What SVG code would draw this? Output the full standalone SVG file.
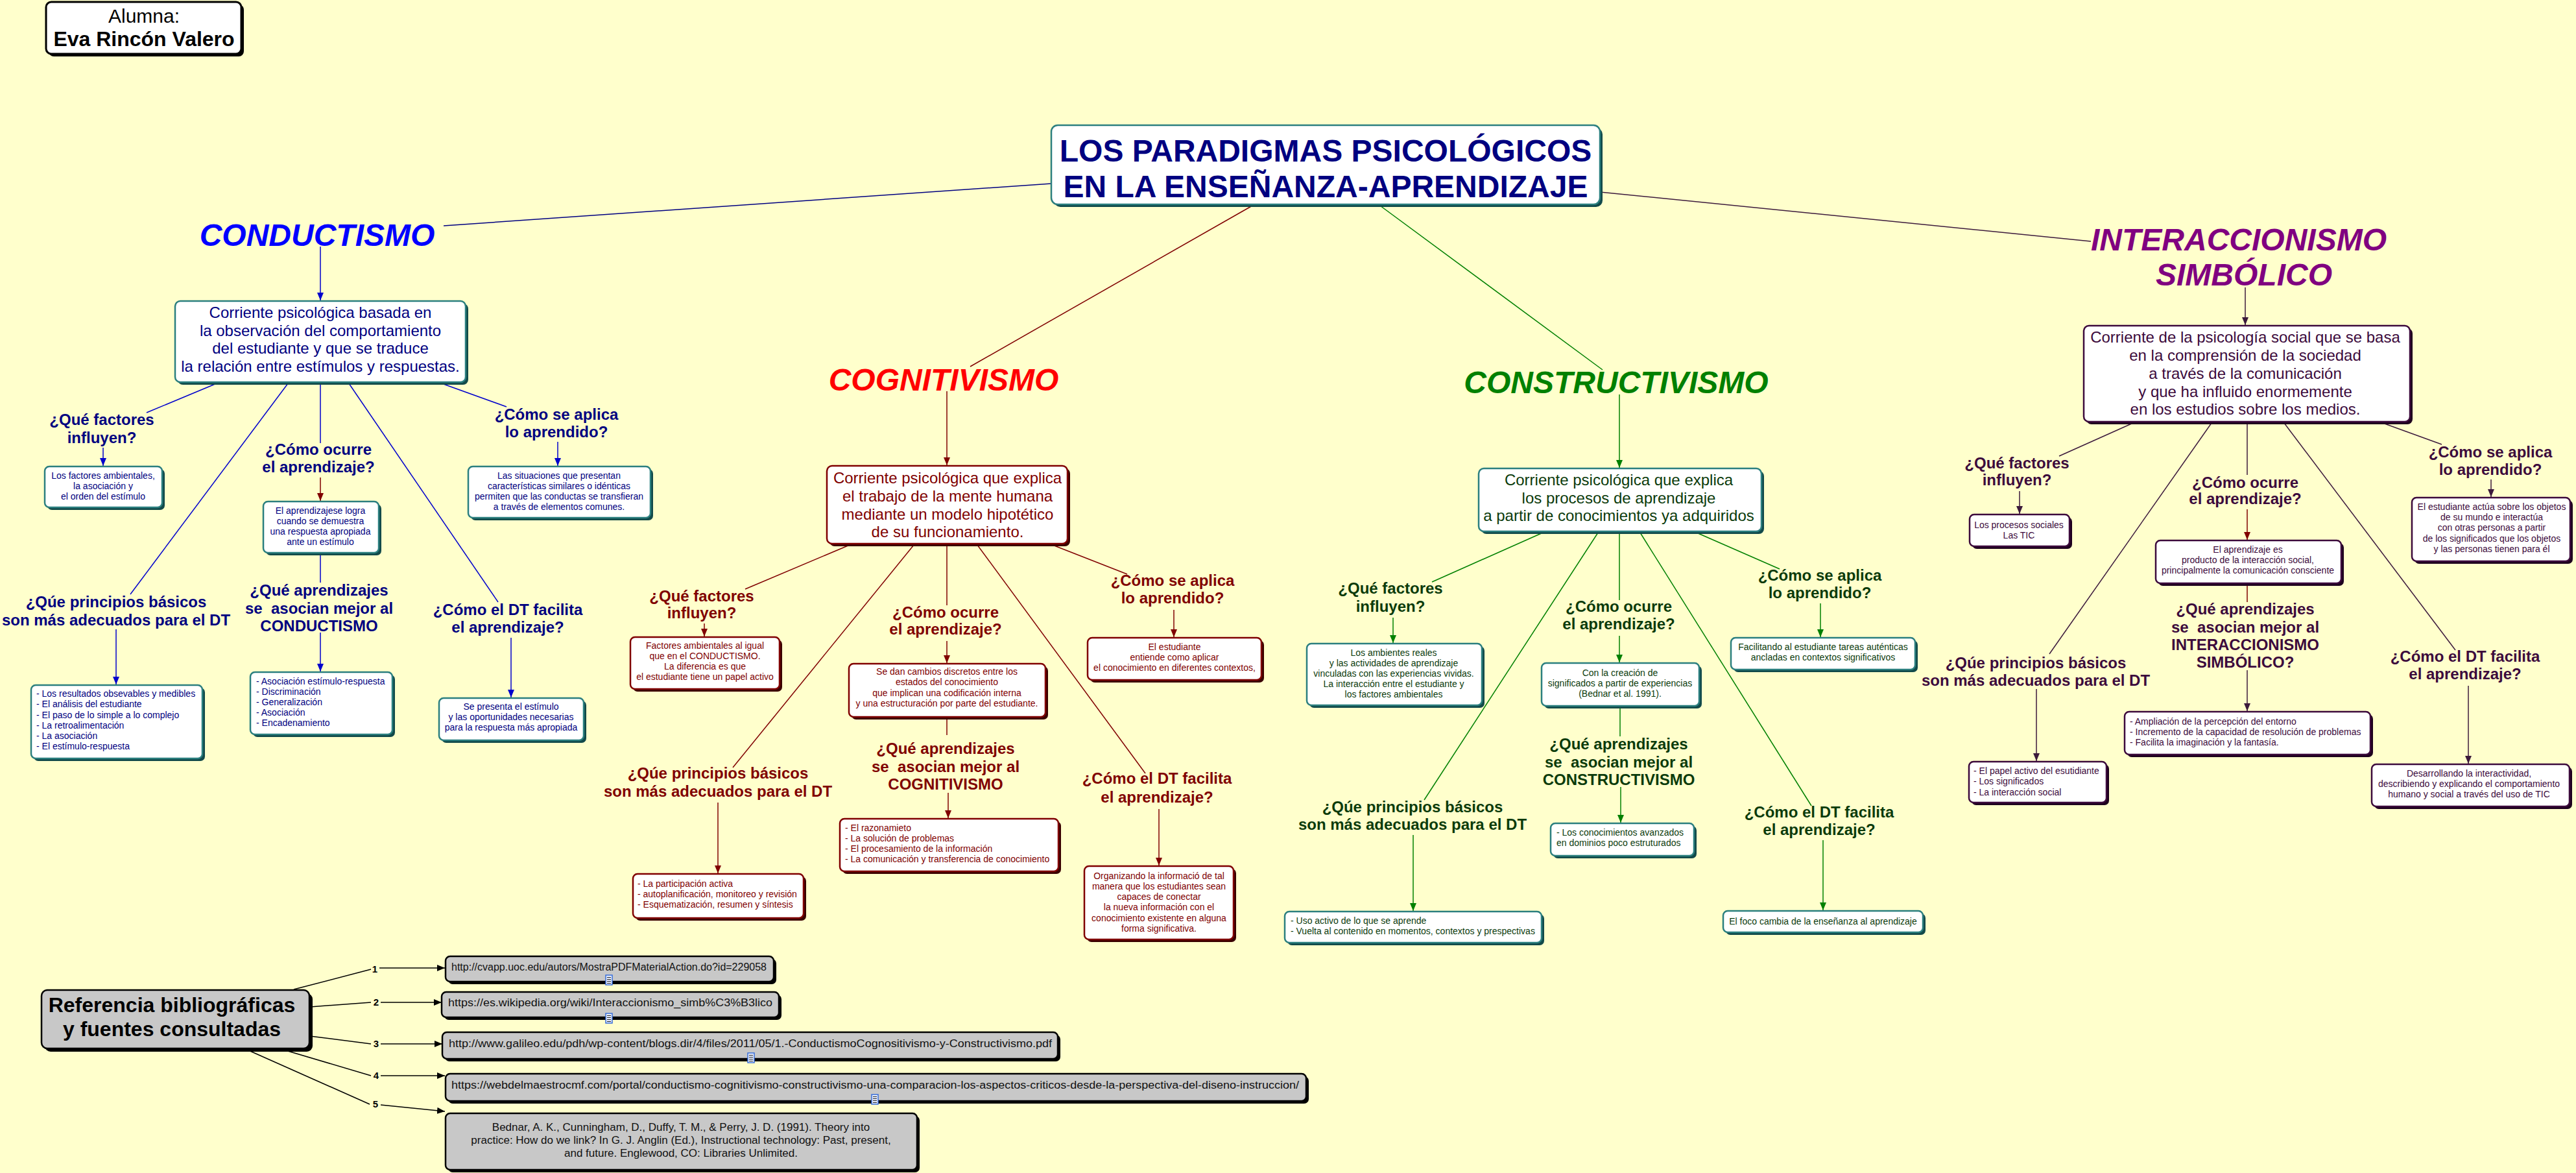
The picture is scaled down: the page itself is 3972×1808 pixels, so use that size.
<svg xmlns="http://www.w3.org/2000/svg" width="3972" height="1808" viewBox="0 0 3972 1808">
<style>
text{font-family:"Liberation Sans",Arial,"DejaVu Sans",sans-serif}
.s{font-size:14px}.m{font-size:24px}.q{font-size:24px;font-weight:bold;white-space:pre}
.big{font-size:48px;font-weight:bold;font-style:italic}
.u{font-size:16px;fill:#111}
.c{text-anchor:middle}
.nv{fill:#000080}.mr{fill:#800000}.gr{fill:#0b3b0b}.pu{fill:#3c0a3c}
.bt{fill:#fff;stroke:#2b7f7f;stroke-width:2.5}
.bm{fill:#fff;stroke:#800000;stroke-width:2.5}
.bp{fill:#fff;stroke:#3c0a3c;stroke-width:2.5}
.bk{fill:#fff;stroke:#000;stroke-width:3}
.bg2{fill:#c8c8c8;stroke:#000;stroke-width:2.5}
.sht{fill:#124a4a}.shm{fill:#3a0000}.shp{fill:#1e001e}.shk{fill:#000}
.l{fill:none;stroke-width:1.5}
.lb{stroke:#0000cc}.lm{stroke:#800000}.lg{stroke:#008000}.lp{stroke:#3c1a3c}.lk{stroke:#000}
.ico rect{fill:#e4ecff;stroke:#3a6fd8;stroke-width:1.5}.ico path{stroke:#222;stroke-width:1}
</style>
<defs>
<marker id="aB" markerWidth="12" markerHeight="10" refX="12" refY="5" orient="auto" markerUnits="userSpaceOnUse"><path d="M0,0L12,5L0,10z" fill="#0000cc"/></marker>
<marker id="aM" markerWidth="12" markerHeight="10" refX="12" refY="5" orient="auto" markerUnits="userSpaceOnUse"><path d="M0,0L12,5L0,10z" fill="#800000"/></marker>
<marker id="aG" markerWidth="12" markerHeight="10" refX="12" refY="5" orient="auto" markerUnits="userSpaceOnUse"><path d="M0,0L12,5L0,10z" fill="#008000"/></marker>
<marker id="aP" markerWidth="12" markerHeight="10" refX="12" refY="5" orient="auto" markerUnits="userSpaceOnUse"><path d="M0,0L12,5L0,10z" fill="#3c1a3c"/></marker>
<marker id="aK" markerWidth="12" markerHeight="10" refX="12" refY="5" orient="auto" markerUnits="userSpaceOnUse"><path d="M0,0L12,5L0,10z" fill="#000"/></marker>
</defs>
<rect width="3972" height="1808" fill="#ffffcc"/>

<g id="connectors">
<line class="l" stroke="#000080" x1="1621" y1="283" x2="684" y2="348"/>
<line class="l lm" x1="1931" y1="317" x2="1496" y2="565"/>
<line class="l lg" x1="2128" y1="317" x2="2471" y2="570"/>
<line class="l lp" x1="2467" y1="296" x2="3224" y2="372"/>
<line class="l lb" x1="494" y1="380" x2="494" y2="463" marker-end="url(#aB)"/>
<line class="l lb" x1="334" y1="591" x2="226" y2="636"/>
<line class="l lb" x1="444" y1="591" x2="201" y2="916"/>
<line class="l lb" x1="494" y1="591" x2="494" y2="683"/>
<line class="l lb" x1="538" y1="591" x2="768" y2="928"/>
<line class="l lb" x1="681" y1="591" x2="781" y2="627"/>
<line class="l lb" x1="159" y1="690" x2="159" y2="718" marker-end="url(#aB)"/>
<line class="l lm" x1="494" y1="736" x2="494" y2="772" marker-end="url(#aM)"/>
<line class="l lb" x1="494" y1="852" x2="494" y2="898"/>
<line class="l lb" x1="494" y1="975" x2="494" y2="1035" marker-end="url(#aB)"/>
<line class="l lb" x1="179" y1="970" x2="179" y2="1055" marker-end="url(#aB)"/>
<line class="l lb" x1="788" y1="983" x2="788" y2="1075" marker-end="url(#aB)"/>
<line class="l lb" x1="860" y1="681" x2="860" y2="718" marker-end="url(#aB)"/>
<line class="l lm" x1="1460" y1="603" x2="1460" y2="717" marker-end="url(#aM)"/>
<line class="l lm" x1="1310" y1="840" x2="1149" y2="908"/>
<line class="l lm" x1="1409" y1="840" x2="1130" y2="1183"/>
<line class="l lm" x1="1460" y1="840" x2="1460" y2="933"/>
<line class="l lm" x1="1507" y1="840" x2="1766" y2="1192"/>
<line class="l lm" x1="1623" y1="840" x2="1738" y2="885"/>
<line class="l lm" x1="1086" y1="961" x2="1086" y2="981" marker-end="url(#aM)"/>
<line class="l lm" x1="1460" y1="988" x2="1460" y2="1022" marker-end="url(#aM)"/>
<line class="l lm" x1="1460" y1="1105" x2="1460" y2="1133"/>
<line class="l lm" x1="1462" y1="1222" x2="1462" y2="1261" marker-end="url(#aM)"/>
<line class="l lm" x1="1107" y1="1237" x2="1107" y2="1346" marker-end="url(#aM)"/>
<line class="l lm" x1="1787" y1="1247" x2="1787" y2="1334" marker-end="url(#aM)"/>
<line class="l lm" x1="1810" y1="940" x2="1810" y2="982" marker-end="url(#aM)"/>
<line class="l lg" x1="2497" y1="608" x2="2497" y2="721" marker-end="url(#aG)"/>
<line class="l lg" x1="2379" y1="821" x2="2208" y2="897"/>
<line class="l lg" x1="2464" y1="821" x2="2196" y2="1233"/>
<line class="l lg" x1="2497" y1="821" x2="2497" y2="925"/>
<line class="l lg" x1="2529" y1="821" x2="2793" y2="1242"/>
<line class="l lg" x1="2616" y1="821" x2="2744" y2="877"/>
<line class="l lg" x1="2148" y1="952" x2="2148" y2="991" marker-end="url(#aG)"/>
<line class="l lg" x1="2497" y1="980" x2="2497" y2="1021" marker-end="url(#aG)"/>
<line class="l lg" x1="2498" y1="1088" x2="2498" y2="1135"/>
<line class="l lg" x1="2499" y1="1213" x2="2499" y2="1268" marker-end="url(#aG)"/>
<line class="l lg" x1="2179" y1="1287" x2="2179" y2="1404" marker-end="url(#aG)"/>
<line class="l lg" x1="2811" y1="1295" x2="2811" y2="1403" marker-end="url(#aG)"/>
<line class="l lg" x1="2807" y1="930" x2="2807" y2="982" marker-end="url(#aG)"/>
<line class="l lp" x1="3462" y1="443" x2="3462" y2="501" marker-end="url(#aP)"/>
<line class="l lp" x1="3289" y1="652" x2="3175" y2="703"/>
<line class="l lp" x1="3410" y1="652" x2="3160" y2="1008"/>
<line class="l lp" x1="3465" y1="652" x2="3465" y2="732"/>
<line class="l lp" x1="3522" y1="652" x2="3786" y2="1002"/>
<line class="l lp" x1="3674" y1="652" x2="3765" y2="685"/>
<line class="l lp" x1="3114" y1="757" x2="3114" y2="792" marker-end="url(#aP)"/>
<line class="l lm" x1="3465" y1="785" x2="3465" y2="832" marker-end="url(#aM)"/>
<line class="l lm" x1="3465" y1="899" x2="3465" y2="928"/>
<line class="l lp" x1="3465" y1="1033" x2="3465" y2="1096" marker-end="url(#aP)"/>
<line class="l lp" x1="3140" y1="1062" x2="3140" y2="1173" marker-end="url(#aP)"/>
<line class="l lp" x1="3806" y1="1057" x2="3806" y2="1177" marker-end="url(#aP)"/>
<line class="l lp" x1="3841" y1="739" x2="3841" y2="766" marker-end="url(#aP)"/>
<line class="l lk" x1="453" y1="1525" x2="572" y2="1494"/>
<line class="l lk" x1="585" y1="1492" x2="686" y2="1492" marker-end="url(#aK)"/>
<line class="l lk" x1="478" y1="1552" x2="572" y2="1545"/>
<line class="l lk" x1="587" y1="1545" x2="681" y2="1545" marker-end="url(#aK)"/>
<line class="l lk" x1="478" y1="1597" x2="572" y2="1609"/>
<line class="l lk" x1="587" y1="1609" x2="682" y2="1609" marker-end="url(#aK)"/>
<line class="l lk" x1="437" y1="1618" x2="572" y2="1658"/>
<line class="l lk" x1="587" y1="1658" x2="686" y2="1658" marker-end="url(#aK)"/>
<line class="l lk" x1="381" y1="1618" x2="570" y2="1702"/>
<line class="l lk" x1="587" y1="1703" x2="686" y2="1713" marker-end="url(#aK)"/>
<g font-size="15" font-weight="bold" text-anchor="middle" fill="#000">
<text x="578" y="1499">1</text><text x="580" y="1550">2</text><text x="580" y="1614">3</text><text x="580" y="1663">4</text><text x="579" y="1707">5</text>
</g>
</g>

<g id="alumna">
<rect class="shk" x="75" y="7" width="301" height="80" rx="8"/>
<rect class="bk" x="71" y="3" width="301" height="80" rx="8"/>
<text x="222" y="35" class="c" font-size="30" fill="#000">Alumna:</text>
<text x="222" y="71" class="c" font-size="32" font-weight="bold" fill="#000">Eva Rincón Valero</text>
</g>

<g id="titulo">
<rect class="sht" x="1625" y="197" width="846" height="122" rx="10"/>
<rect class="bt" x="1621" y="193" width="846" height="122" rx="10"/>
<text class="c nv" font-size="48" font-weight="bold"><tspan x="2044" y="249">LOS PARADIGMAS PSICOLÓGICOS</tspan><tspan x="2044" y="304">EN LA ENSEÑANZA-APRENDIZAJE</tspan></text>
</g>

<g id="conductismo"><text x="489" y="379" class="big c" fill="#0000ff">CONDUCTISMO</text></g>
<g id="c-def">
<rect class="sht" x="274" y="468" width="448" height="125" rx="8"/>
<rect class="bt" x="270" y="464" width="448" height="125" rx="8"/>
<text class="m c nv"><tspan x="494" y="490">Corriente psicológica basada en</tspan><tspan x="494" y="518">la observación del comportamiento</tspan><tspan x="494" y="545">del estudiante y que se traduce</tspan><tspan x="494" y="573">la relación entre estímulos y respuestas.</tspan></text>
</g>
<g id="c-q1"><text class="q c nv"><tspan x="157" y="655">¿Qué factores</tspan><tspan x="157" y="683">influyen?</tspan></text></g>
<g id="c-b1">
<rect class="sht" x="73" y="723" width="181" height="63" rx="7"/>
<rect class="bt" x="69" y="719" width="181" height="63" rx="7"/>
<text class="s c nv"><tspan x="159" y="738">Los factores ambientales,</tspan><tspan x="159" y="754">la asociación y</tspan><tspan x="159" y="770">el orden del estímulo</tspan></text>
</g>
<g id="c-q2"><text class="q c nv"><tspan x="491" y="701">¿Cómo ocurre</tspan><tspan x="491" y="728">el aprendizaje?</tspan></text></g>
<g id="c-b2">
<rect class="sht" x="410" y="777" width="178" height="79" rx="7"/>
<rect class="bt" x="406" y="773" width="178" height="79" rx="7"/>
<text class="s c nv"><tspan x="494" y="792">El aprendizajese logra</tspan><tspan x="494" y="808">cuando se demuestra</tspan><tspan x="494" y="824">una respuesta apropiada</tspan><tspan x="494" y="840">ante un estímulo</tspan></text>
</g>
<g id="c-q3"><text class="q c nv"><tspan x="492" y="918">¿Qué aprendizajes</tspan><tspan x="492" y="946">se  asocian mejor al</tspan><tspan x="492" y="973">CONDUCTISMO</tspan></text></g>
<g id="c-b3">
<rect class="sht" x="390" y="1040" width="219" height="96" rx="7"/>
<rect class="bt" x="386" y="1036" width="219" height="96" rx="7"/>
<text class="s nv"><tspan x="395" y="1055">- Asociación estímulo-respuesta</tspan><tspan x="395" y="1071">- Discriminación</tspan><tspan x="395" y="1087">- Generalización</tspan><tspan x="395" y="1103">- Asociación</tspan><tspan x="395" y="1119">- Encadenamiento</tspan></text>
</g>
<g id="c-q4"><text class="q c nv"><tspan x="179" y="936">¿Qúe principios básicos</tspan><tspan x="179" y="964">son más adecuados para el DT</tspan></text></g>
<g id="c-b4">
<rect class="sht" x="52" y="1060" width="264" height="113" rx="7"/>
<rect class="bt" x="48" y="1056" width="264" height="113" rx="7"/>
<text class="s nv"><tspan x="56" y="1074">- Los resultados obsevables y medibles</tspan><tspan x="56" y="1090">- El análisis del estudiante</tspan><tspan x="56" y="1107">- El paso de lo simple a lo complejo</tspan><tspan x="56" y="1123">- La retroalimentación</tspan><tspan x="56" y="1139">- La asociación</tspan><tspan x="56" y="1155">- El estímulo-respuesta</tspan></text>
</g>
<g id="c-q5"><text class="q c nv"><tspan x="783" y="948">¿Cómo el DT facilita</tspan><tspan x="783" y="975">el aprendizaje?</tspan></text></g>
<g id="c-b5">
<rect class="sht" x="681" y="1080" width="223" height="65" rx="7"/>
<rect class="bt" x="677" y="1076" width="223" height="65" rx="7"/>
<text class="s c nv"><tspan x="788" y="1094">Se presenta el estímulo</tspan><tspan x="788" y="1110">y las oportunidades necesarias</tspan><tspan x="788" y="1126">para la respuesta más apropiada</tspan></text>
</g>
<g id="c-q6"><text class="q c nv"><tspan x="858" y="647">¿Cómo se aplica</tspan><tspan x="858" y="674">lo aprendido?</tspan></text></g>
<g id="c-b6">
<rect class="sht" x="726" y="723" width="281" height="79" rx="7"/>
<rect class="bt" x="722" y="719" width="281" height="79" rx="7"/>
<text class="s c nv"><tspan x="862" y="738">Las situaciones que presentan</tspan><tspan x="862" y="754">características similares o idénticas</tspan><tspan x="862" y="770">permiten que las conductas se transfieran</tspan><tspan x="862" y="786">a través de elementos comunes.</tspan></text>
</g>

<g id="cognitivismo"><text x="1455" y="602" class="big c" fill="#ff0000">COGNITIVISMO</text></g>
<g id="g-def">
<rect class="shm" x="1279" y="722" width="371" height="120" rx="8"/>
<rect class="bm" x="1275" y="718" width="371" height="120" rx="8"/>
<text class="m c mr"><tspan x="1461" y="745">Corriente psicológica que explica</tspan><tspan x="1461" y="773">el trabajo de la mente humana</tspan><tspan x="1461" y="801">mediante un modelo hipotético</tspan><tspan x="1461" y="828">de su funcionamiento.</tspan></text>
</g>
<g id="g-q1"><text class="q c mr"><tspan x="1082" y="927">¿Qué factores</tspan><tspan x="1082" y="953">influyen?</tspan></text></g>
<g id="g-b1">
<rect class="shm" x="976" y="986" width="230" height="80" rx="7"/>
<rect class="bm" x="972" y="982" width="230" height="80" rx="7"/>
<text class="s c mr"><tspan x="1087" y="1000">Factores ambientales al igual</tspan><tspan x="1087" y="1016">que en el CONDUCTISMO.</tspan><tspan x="1087" y="1032">La diferencia es que</tspan><tspan x="1087" y="1048">el estudiante tiene un papel activo</tspan></text>
</g>
<g id="g-q2"><text class="q c mr"><tspan x="1458" y="952">¿Cómo ocurre</tspan><tspan x="1458" y="978">el aprendizaje?</tspan></text></g>
<g id="g-b2">
<rect class="shm" x="1313" y="1027" width="303" height="82" rx="7"/>
<rect class="bm" x="1309" y="1023" width="303" height="82" rx="7"/>
<text class="s c mr"><tspan x="1460" y="1040">Se dan cambios discretos entre los</tspan><tspan x="1460" y="1056">estados del conocimiento</tspan><tspan x="1460" y="1073">que implican una codificación interna</tspan><tspan x="1460" y="1089">y una estructuración por parte del estudiante.</tspan></text>
</g>
<g id="g-q3"><text class="q c mr"><tspan x="1458" y="1162">¿Qué aprendizajes</tspan><tspan x="1458" y="1190">se  asocian mejor al</tspan><tspan x="1458" y="1217">COGNITIVISMO</tspan></text></g>
<g id="g-b3">
<rect class="shm" x="1299" y="1266" width="337" height="81" rx="7"/>
<rect class="bm" x="1295" y="1262" width="337" height="81" rx="7"/>
<text class="s mr"><tspan x="1303" y="1281">- El razonamieto</tspan><tspan x="1303" y="1297">- La solución de problemas</tspan><tspan x="1303" y="1313">- El procesamiento de la información</tspan><tspan x="1303" y="1329">- La comunicación y transferencia de conocimiento</tspan></text>
</g>
<g id="g-q4"><text class="q c mr"><tspan x="1107" y="1200">¿Qúe principios básicos</tspan><tspan x="1107" y="1228">son más adecuados para el DT</tspan></text></g>
<g id="g-b4">
<rect class="shm" x="980" y="1351" width="263" height="68" rx="7"/>
<rect class="bm" x="976" y="1347" width="263" height="68" rx="7"/>
<text class="s mr"><tspan x="983" y="1367">- La participación activa</tspan><tspan x="983" y="1383">- autoplanificación, monitoreo y revisión</tspan><tspan x="983" y="1399">- Esquematización, resumen y síntesis</tspan></text>
</g>
<g id="g-q5"><text class="q c mr"><tspan x="1784" y="1208">¿Cómo el DT facilita</tspan><tspan x="1784" y="1237">el aprendizaje?</tspan></text></g>
<g id="g-b5">
<rect class="shm" x="1676" y="1339" width="230" height="113" rx="7"/>
<rect class="bm" x="1672" y="1335" width="230" height="113" rx="7"/>
<text class="s c mr"><tspan x="1787" y="1355">Organizando la informació de tal</tspan><tspan x="1787" y="1371">manera que los estudiantes sean</tspan><tspan x="1787" y="1387">capaces de conectar</tspan><tspan x="1787" y="1403">la nueva información con el</tspan><tspan x="1787" y="1420">conocimiento existente en alguna</tspan><tspan x="1787" y="1436">forma significativa.</tspan></text>
</g>
<g id="g-q6"><text class="q c mr"><tspan x="1808" y="903">¿Cómo se aplica</tspan><tspan x="1808" y="930">lo aprendido?</tspan></text></g>
<g id="g-b6">
<rect class="shm" x="1681" y="987" width="268" height="65" rx="7"/>
<rect class="bm" x="1677" y="983" width="268" height="65" rx="7"/>
<text class="s c mr"><tspan x="1811" y="1002">El estudiante</tspan><tspan x="1811" y="1018">entiende como aplicar</tspan><tspan x="1811" y="1034">el conocimiento en diferentes contextos,</tspan></text>
</g>

<g id="constructivismo"><text x="2492" y="606" class="big c" fill="#008000">CONSTRUCTIVISMO</text></g>
<g id="k-def">
<rect class="sht" x="2284" y="726" width="436" height="97" rx="8"/>
<rect class="bt" x="2280" y="722" width="436" height="97" rx="8"/>
<text class="m c gr"><tspan x="2496" y="748">Corriente psicológica que explica</tspan><tspan x="2496" y="776">los procesos de aprendizaje</tspan><tspan x="2496" y="803">a partir de conocimientos ya adquiridos</tspan></text>
</g>
<g id="k-q1"><text class="q c gr"><tspan x="2144" y="915">¿Qué factores</tspan><tspan x="2144" y="943">influyen?</tspan></text></g>
<g id="k-b1">
<rect class="sht" x="2019" y="996" width="270" height="95" rx="7"/>
<rect class="bt" x="2015" y="992" width="270" height="95" rx="7"/>
<text class="s c gr"><tspan x="2149" y="1011">Los ambientes reales</tspan><tspan x="2149" y="1027">y las actividades de aprendizaje</tspan><tspan x="2149" y="1043">vinculadas con las experiencias vividas.</tspan><tspan x="2149" y="1059">La interacción entre el estudiante y</tspan><tspan x="2149" y="1075">los factores ambientales</tspan></text>
</g>
<g id="k-q2"><text class="q c gr"><tspan x="2496" y="943">¿Cómo ocurre</tspan><tspan x="2496" y="970">el aprendizaje?</tspan></text></g>
<g id="k-b2">
<rect class="sht" x="2381" y="1026" width="243" height="66" rx="7"/>
<rect class="bt" x="2377" y="1022" width="243" height="66" rx="7"/>
<text class="s c gr"><tspan x="2498" y="1042">Con la creación de</tspan><tspan x="2498" y="1058">significados a partir de experiencias</tspan><tspan x="2498" y="1074">(Bednar et al. 1991).</tspan></text>
</g>
<g id="k-q3"><text class="q c gr"><tspan x="2496" y="1155">¿Qué aprendizajes</tspan><tspan x="2496" y="1183">se  asocian mejor al</tspan><tspan x="2496" y="1210">CONSTRUCTIVISMO</tspan></text></g>
<g id="k-b3">
<rect class="sht" x="2395" y="1273" width="221" height="50" rx="7"/>
<rect class="bt" x="2391" y="1269" width="221" height="50" rx="7"/>
<text class="s gr"><tspan x="2400" y="1288">- Los conocimientos avanzados</tspan><tspan x="2400" y="1304">en dominios poco estruturados</tspan></text>
</g>
<g id="k-q4"><text class="q c gr"><tspan x="2178" y="1252">¿Qúe principios básicos</tspan><tspan x="2178" y="1279">son más adecuados para el DT</tspan></text></g>
<g id="k-b4">
<rect class="sht" x="1985" y="1409" width="396" height="48" rx="7"/>
<rect class="bt" x="1981" y="1405" width="396" height="48" rx="7"/>
<text class="s gr"><tspan x="1990" y="1424">- Uso activo de lo que se aprende</tspan><tspan x="1990" y="1440">- Vuelta al contenido en momentos, contextos y prespectivas</tspan></text>
</g>
<g id="k-q5"><text class="q c gr"><tspan x="2805" y="1260">¿Cómo el DT facilita</tspan><tspan x="2805" y="1287">el aprendizaje?</tspan></text></g>
<g id="k-b5">
<rect class="sht" x="2661" y="1408" width="308" height="33" rx="7"/>
<rect class="bt" x="2657" y="1404" width="308" height="33" rx="7"/>
<text class="s c gr" x="2811" y="1425">El foco cambia de la enseñanza al aprendizaje</text>
</g>
<g id="k-q6"><text class="q c gr"><tspan x="2806" y="895">¿Cómo se aplica</tspan><tspan x="2806" y="922">lo aprendido?</tspan></text></g>
<g id="k-b6">
<rect class="sht" x="2673" y="987" width="284" height="49" rx="7"/>
<rect class="bt" x="2669" y="983" width="284" height="49" rx="7"/>
<text class="s c gr"><tspan x="2811" y="1002">Facilitando al estudiante tareas auténticas</tspan><tspan x="2811" y="1018">ancladas en contextos significativos</tspan></text>
</g>

<g id="interaccionismo"><text class="big c" fill="#800080"><tspan x="3452" y="386">INTERACCIONISMO</tspan><tspan x="3460" y="440">SIMBÓLICO</tspan></text></g>
<g id="i-def">
<rect class="shp" x="3217" y="506" width="503" height="148" rx="8"/>
<rect class="bp" x="3213" y="502" width="503" height="148" rx="8"/>
<text class="m c pu"><tspan x="3462" y="528">Corriente de la psicología social que se basa</tspan><tspan x="3462" y="556">en la comprensión de la sociedad</tspan><tspan x="3462" y="584">a través de la comunicación</tspan><tspan x="3462" y="612">y que ha influido enormemente</tspan><tspan x="3462" y="639">en los estudios sobre los medios.</tspan></text>
</g>
<g id="i-q1"><text class="q c pu"><tspan x="3110" y="722">¿Qué factores</tspan><tspan x="3110" y="748">influyen?</tspan></text></g>
<g id="i-b1">
<rect class="shp" x="3041" y="797" width="154" height="49" rx="7"/>
<rect class="bp" x="3037" y="793" width="154" height="49" rx="7"/>
<text class="s c pu"><tspan x="3113" y="814">Los procesos sociales</tspan><tspan x="3113" y="830">Las TIC</tspan></text>
</g>
<g id="i-q2"><text class="q c pu"><tspan x="3462" y="752">¿Cómo ocurre</tspan><tspan x="3462" y="777">el aprendizaje?</tspan></text></g>
<g id="i-b2">
<rect class="shp" x="3328" y="837" width="286" height="66" rx="7"/>
<rect class="bp" x="3324" y="833" width="286" height="66" rx="7"/>
<text class="s c pu"><tspan x="3466" y="852">El aprendizaje es</tspan><tspan x="3466" y="868">producto de la interacción social,</tspan><tspan x="3466" y="884">principalmente la comunicación consciente</tspan></text>
</g>
<g id="i-q3"><text class="q c pu"><tspan x="3462" y="947">¿Qué aprendizajes</tspan><tspan x="3462" y="975">se  asocian mejor al</tspan><tspan x="3462" y="1002">INTERACCIONISMO</tspan><tspan x="3462" y="1029">SIMBÓLICO?</tspan></text></g>
<g id="i-b3">
<rect class="shp" x="3280" y="1101" width="379" height="66" rx="7"/>
<rect class="bp" x="3276" y="1097" width="379" height="66" rx="7"/>
<text class="s pu"><tspan x="3284" y="1117">- Ampliación de la percepción del entorno</tspan><tspan x="3284" y="1133">- Incremento de la capacidad de resolución de problemas</tspan><tspan x="3284" y="1149">- Facilita la imaginación y la fantasía.</tspan></text>
</g>
<g id="i-q4"><text class="q c pu"><tspan x="3139" y="1030">¿Qúe principios básicos</tspan><tspan x="3139" y="1057">son más adecuados para el DT</tspan></text></g>
<g id="i-b4">
<rect class="shp" x="3040" y="1178" width="212" height="63" rx="7"/>
<rect class="bp" x="3036" y="1174" width="212" height="63" rx="7"/>
<text class="s pu"><tspan x="3043" y="1193">- El papel activo del esutidiante</tspan><tspan x="3043" y="1209">- Los significados</tspan><tspan x="3043" y="1226">- La interacción social</tspan></text>
</g>
<g id="i-q5"><text class="q c pu"><tspan x="3801" y="1020">¿Cómo el DT facilita</tspan><tspan x="3801" y="1047">el aprendizaje?</tspan></text></g>
<g id="i-b5">
<rect class="shp" x="3661" y="1182" width="305" height="65" rx="7"/>
<rect class="bp" x="3657" y="1178" width="305" height="65" rx="7"/>
<text class="s c pu"><tspan x="3807" y="1197">Desarrollando la interactividad,</tspan><tspan x="3807" y="1213">describiendo y explicando el comportamiento</tspan><tspan x="3807" y="1229">humano y social a través del uso de TIC</tspan></text>
</g>
<g id="i-q6"><text class="q c pu"><tspan x="3840" y="705">¿Cómo se aplica</tspan><tspan x="3840" y="732">lo aprendido?</tspan></text></g>
<g id="i-b6">
<rect class="shp" x="3723" y="771" width="244" height="98" rx="7"/>
<rect class="bp" x="3719" y="767" width="244" height="98" rx="7"/>
<text class="s c pu"><tspan x="3842" y="786">El estudiante actúa sobre los objetos</tspan><tspan x="3842" y="802">de su mundo e interactúa</tspan><tspan x="3842" y="818">con otras personas a partir</tspan><tspan x="3842" y="835">de los significados que los objetos</tspan><tspan x="3842" y="851">y las personas tienen para él</tspan></text>
</g>

<g id="referencias">
<rect class="shk" x="69" y="1531" width="413" height="90" rx="9"/>
<rect class="bg2" x="64" y="1526" width="413" height="90" rx="9" stroke-width="3"/>
<text class="c" font-size="32" font-weight="bold" fill="#000"><tspan x="265" y="1560">Referencia bibliográficas</tspan><tspan x="265" y="1597">y fuentes consultadas</tspan></text>
</g>
<g id="ref1">
<rect class="shk" x="691" y="1478" width="506" height="39" rx="7"/>
<rect class="bg2" x="687" y="1474" width="506" height="39" rx="7"/>
<text class="u" x="696" y="1496" textLength="486" lengthAdjust="spacingAndGlyphs">http://cvapp.uoc.edu/autors/MostraPDFMaterialAction.do?id=229058</text>
<g class="ico" transform="translate(934,1503)"><rect width="10" height="15"/><path d="M2,3.5h6M2,6.5h6M2,9.5h6M2,12.5h6"/></g>
</g>
<g id="ref2">
<rect class="shk" x="685" y="1533" width="520" height="39" rx="7"/>
<rect class="bg2" x="681" y="1529" width="520" height="39" rx="7"/>
<text class="u" x="691" y="1551" textLength="500" lengthAdjust="spacingAndGlyphs">https://es.wikipedia.org/wiki/Interaccionismo_simb%C3%B3lico</text>
<g class="ico" transform="translate(934,1562)"><rect width="10" height="15"/><path d="M2,3.5h6M2,6.5h6M2,9.5h6M2,12.5h6"/></g>
</g>
<g id="ref3">
<rect class="shk" x="686" y="1595" width="949" height="41" rx="7"/>
<rect class="bg2" x="682" y="1591" width="949" height="41" rx="7"/>
<text class="u" x="692" y="1614" textLength="930" lengthAdjust="spacingAndGlyphs">http://www.galileo.edu/pdh/wp-content/blogs.dir/4/files/2011/05/1.-ConductismoCognositivismo-y-Constructivismo.pdf</text>
<g class="ico" transform="translate(1153,1623)"><rect width="10" height="15"/><path d="M2,3.5h6M2,6.5h6M2,9.5h6M2,12.5h6"/></g>
</g>
<g id="ref4">
<rect class="shk" x="691" y="1659" width="1327" height="42" rx="7"/>
<rect class="bg2" x="687" y="1655" width="1327" height="42" rx="7"/>
<text class="u" x="696" y="1678" textLength="1307" lengthAdjust="spacingAndGlyphs">https://webdelmaestrocmf.com/portal/conductismo-cognitivismo-constructivismo-una-comparacion-los-aspectos-criticos-desde-la-perspectiva-del-diseno-instruccion/</text>
<g class="ico" transform="translate(1344,1687)"><rect width="10" height="15"/><path d="M2,3.5h6M2,6.5h6M2,9.5h6M2,12.5h6"/></g>
</g>
<g id="ref5">
<rect class="shk" x="691" y="1720" width="727" height="87" rx="7"/>
<rect class="bg2" x="687" y="1716" width="727" height="87" rx="7"/>
<text class="c" font-size="17" fill="#111"><tspan x="1050" y="1743">Bednar, A. K., Cunningham, D., Duffy, T. M., &amp; Perry, J. D. (1991). Theory into</tspan><tspan x="1050" y="1763">practice: How do we link? In G. J. Anglin (Ed.), Instructional technology: Past, present,</tspan><tspan x="1050" y="1783">and future. Englewood, CO: Libraries Unlimited.</tspan></text>
</g>
</svg>
